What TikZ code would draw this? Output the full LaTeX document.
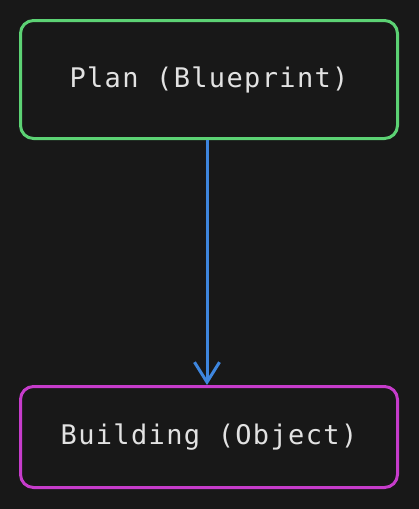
\documentclass[tikz,border=0pt]{standalone}
\usepackage{fontspec}
\setmonofont{DejaVu Sans Mono}[LetterSpace=5]
\usepackage{tikz}
\usetikzlibrary{arrows.meta,positioning}
\definecolor{BgDark}{HTML}{181818}
\definecolor{PlanGreen}{HTML}{5CD274}
\definecolor{BuildPink}{HTML}{C63CCB}
\definecolor{LinkBlue}{HTML}{3E86DE}
\definecolor{TextGray}{HTML}{E2E2E2}
\begin{document}
\begin{tikzpicture}[node distance=245pt, every node/.style={font=\fontsize{27}{32}\selectfont\ttfamily,text=TextGray},
 box/.style={draw,line width=3pt,rounded corners=13pt,fill=BgDark,minimum width=377pt,align=center},
 arr/.style={-{Straight Barb[length=20pt,width=25pt,line width=3pt]},line width=3pt,LinkBlue}]
\fill[BgDark] (0,0) rectangle (419pt,-509pt);
\useasboundingbox (0,0) rectangle (419pt,-509pt);
\node[box,draw=PlanGreen,minimum height=118pt] (plan) at (209pt,-79.5pt) {Plan (Blueprint)};
\node[box,draw=BuildPink,minimum height=101pt,below=of plan] (build) {Building (Object)};
\draw[arr] ([xshift=-2pt]plan.south)--([xshift=-2pt]build.north);
\end{tikzpicture}
\end{document}
